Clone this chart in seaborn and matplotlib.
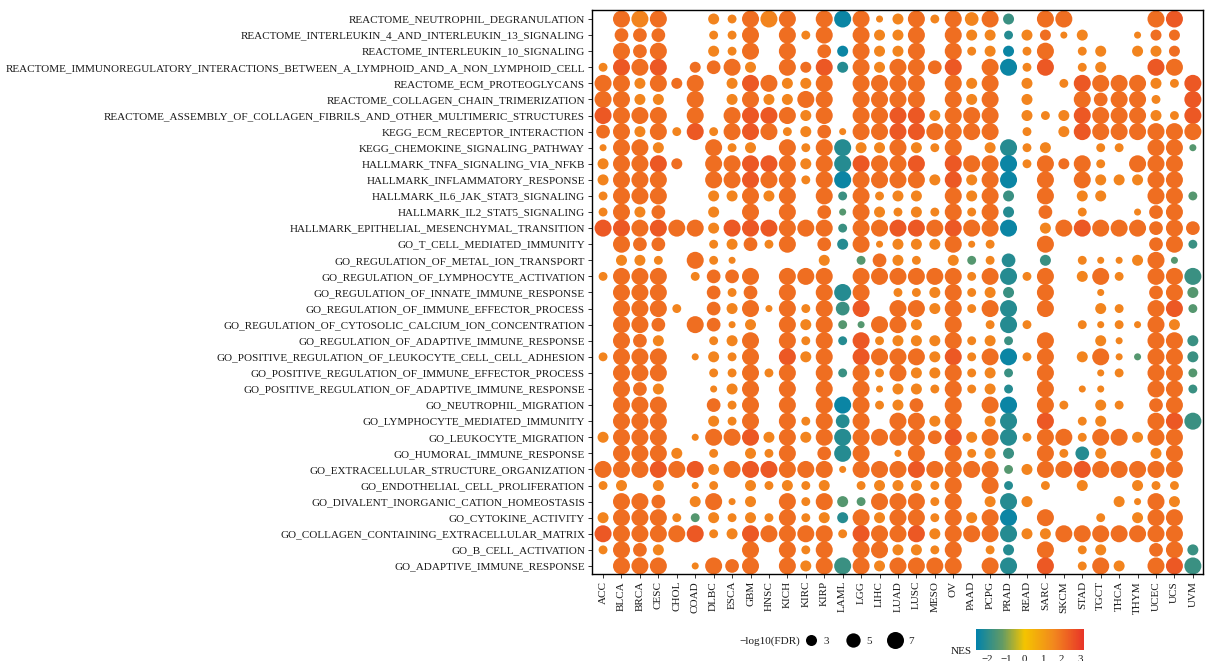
import numpy as np
import pandas as pd
import matplotlib
matplotlib.use("Agg")
import matplotlib as mpl
import matplotlib.pyplot as plt
from matplotlib.colors import LinearSegmentedColormap, Normalize
from matplotlib.lines import Line2D
import seaborn as sns

CANCERS = ["ACC", "BLCA", "BRCA", "CESC", "CHOL", "COAD", "DLBC", "ESCA", "GBM", "HNSC",
           "KICH", "KIRC", "KIRP", "LAML", "LGG", "LIHC", "LUAD", "LUSC", "MESO", "OV",
           "PAAD", "PCPG", "PRAD", "READ", "SARC", "SKCM", "STAD", "TGCT", "THCA", "THYM",
           "UCEC", "UCS", "UVM"]

PATHWAYS = [
    "REACTOME_NEUTROPHIL_DEGRANULATION",
    "REACTOME_INTERLEUKIN_4_AND_INTERLEUKIN_13_SIGNALING",
    "REACTOME_INTERLEUKIN_10_SIGNALING",
    "REACTOME_IMMUNOREGULATORY_INTERACTIONS_BETWEEN_A_LYMPHOID_AND_A_NON_LYMPHOID_CELL",
    "REACTOME_ECM_PROTEOGLYCANS",
    "REACTOME_COLLAGEN_CHAIN_TRIMERIZATION",
    "REACTOME_ASSEMBLY_OF_COLLAGEN_FIBRILS_AND_OTHER_MULTIMERIC_STRUCTURES",
    "KEGG_ECM_RECEPTOR_INTERACTION",
    "KEGG_CHEMOKINE_SIGNALING_PATHWAY",
    "HALLMARK_TNFA_SIGNALING_VIA_NFKB",
    "HALLMARK_INFLAMMATORY_RESPONSE",
    "HALLMARK_IL6_JAK_STAT3_SIGNALING",
    "HALLMARK_IL2_STAT5_SIGNALING",
    "HALLMARK_EPITHELIAL_MESENCHYMAL_TRANSITION",
    "GO_T_CELL_MEDIATED_IMMUNITY",
    "GO_REGULATION_OF_METAL_ION_TRANSPORT",
    "GO_REGULATION_OF_LYMPHOCYTE_ACTIVATION",
    "GO_REGULATION_OF_INNATE_IMMUNE_RESPONSE",
    "GO_REGULATION_OF_IMMUNE_EFFECTOR_PROCESS",
    "GO_REGULATION_OF_CYTOSOLIC_CALCIUM_ION_CONCENTRATION",
    "GO_REGULATION_OF_ADAPTIVE_IMMUNE_RESPONSE",
    "GO_POSITIVE_REGULATION_OF_LEUKOCYTE_CELL_CELL_ADHESION",
    "GO_POSITIVE_REGULATION_OF_IMMUNE_EFFECTOR_PROCESS",
    "GO_POSITIVE_REGULATION_OF_ADAPTIVE_IMMUNE_RESPONSE",
    "GO_NEUTROPHIL_MIGRATION",
    "GO_LYMPHOCYTE_MEDIATED_IMMUNITY",
    "GO_LEUKOCYTE_MIGRATION",
    "GO_HUMORAL_IMMUNE_RESPONSE",
    "GO_EXTRACELLULAR_STRUCTURE_ORGANIZATION",
    "GO_ENDOTHELIAL_CELL_PROLIFERATION",
    "GO_DIVALENT_INORGANIC_CATION_HOMEOSTASIS",
    "GO_CYTOKINE_ACTIVITY",
    "GO_COLLAGEN_CONTAINING_EXTRACELLULAR_MATRIX",
    "GO_B_CELL_ACTIVATION",
    "GO_ADAPTIVE_IMMUNE_RESPONSE",
]

# -log10(FDR) class of each cell ('.' = no dot); one string per pathway,
# one character per cancer type (spaces only group the columns by four)
FDR_CODES = [
    ".555 ..32 555. 5551 3525 453. 55.. ..55 .",
    ".444 ..22 5.52 5.53 35.5 3323 313. .133 .",
    ".545 ..32 5.5. 4353 35.5 2332 5.23 .333 .",
    "2555 .345 3.53 5353 5545 .552 5.23 ..55 .",
    "5535 35.3 5533 5.55 55.5 35.3 .255 5532 5",
    "5533 .5.3 5335 5.55 55.5 35.3 ..54 552. 5",
    "5555 .5.5 5553 5.55 5535 55.3 2355 5532 5",
    "4535 2525 5523 4155 5555 55.2 .355 5555 5",
    "1553 ..52 3.52 5533 5325 .352 3..2 2.55 1",
    "3555 3.55 5553 5555 55.5 5552 5352 .555 .",
    "3555 ..55 5552 5555 5535 355. 5.53 3355 .",
    "2555 ..33 535. 5252 33.5 353. 5.33 ..55 2",
    "2534 ..3. 5.5. 4153 2325 253. 4.2. .145 .",
    "5555 5535 5555 5255 5555 555. 3555 5545 4",
    ".544 ..23 425. 4351 3335 12.. 5... ..45 2",
    ".332 .521 .... 3.24 32.3 224. 3.21 1351 .",
    "2555 .244 5.55 5.55 5555 2552 5.35 2.55 5",
    ".555 ..42 4.5. 555. 2235 233. 5..1 ..45 3",
    ".555 2.43 5152 545. 5535 255. 5..3 2.55 2",
    ".554 .541 3.53 5215 53.5 .252 ..21 2153 .",
    ".543 ..23 5.52 5252 3335 232. 5..3 1.55 3",
    "2555 .132 5.53 5.55 5535 2552 5.35 1155 3",
    ".555 ..22 525. 5252 5335 232. 5..1 2.55 2",
    ".543 ..13 5.5. 5.51 3325 232. 5.11 ..55 2",
    ".555 ..42 5.5. 5552 34.5 .55. 52.3 2.45 .",
    ".555 ..32 5.52 545. 5535 .35. 5.23 ..55 5",
    "3555 .155 5353 5555 5545 3552 5525 5355 .",
    ".555 3.2. 325. 455. 15.5 233. 5243 ..35 .",
    "5555 5535 5555 5155 5555 5523 5555 5555 .",
    "23.3 .12. 3232 3.23 3325 .52. 2.3. .322 .",
    ".554 .351 3.52 5325 5525 .353 .... 3153 .",
    "3555 2232 3252 3353 5525 355. 5..2 .355 .",
    "5555 5523 5555 5255 5535 5553 3555 5555 .",
    "2543 .... 5.52 5.55 3325 .23. 5.23 ..45 3",
    ".555 .154 5.53 5553 5555 .55. 5.25 3.55 5",
]

# NES class of each cell
NES_CODES = [
    ".OoO ..oo OoO. OBOo oOoO oOG. OO.. ..OR .",
    ".OOO ..oo O.Oo O.Oo oO.O ooTo Ooo. .oOO .",
    ".OOO ..oo O.O. OBOo oO.O ooBo O.oo .ooO .",
    "oROR .OOO o.OO RTOo OOOR .OBo R.oo ..RO .",
    "OOoO OO.o ROoo O.OO OO.O oO.o .oRO OOoo R",
    "OOoo .O.o OooO O.OO OO.O oO.o ..OO OOo. R",
    "ROOO .O.O RROo O.OO RRoO OO.o ooRO OOoo R",
    "OOoO oRoO ROoo OoOO RROO OO.o .oRO OOOO O",
    "oOOo ..Oo o.Oo OToo OooO .oTo o..o o.OO g",
    "oOOR O.OO RROo OTRO OR.R OOBo OOOo .OOO .",
    "oOOO ..OO ROOo OBOO OOoR oOB. O.Oo ooOO .",
    "oOOO ..oo OoO. OGOo oo.O oOG. O.oo ..OO g",
    "oOoO ..o. O.O. OgOo oooO oOT. O.o. .oOO .",
    "RROR OOoR RROO OGOO RROR OOB. oORO OOOO O",
    ".OOO ..oo OoO. OTOo oooO oo.. O... ..OO G",
    ".ooo .Ooo .... o.gO oo.o goT. G.oo ooOg .",
    "oOOO .oOO O.OO O.OO OOOO oOTo O.oO o.OO G",
    ".OOO ..Oo O.O. OTO. oooO ooG. O..o ..OO g",
    ".OOO o.Oo OoOo OGR. OOoO oOT. O..o o.OR g",
    ".OOO .OOo o.Oo OggO Oo.O .oTo ..oo ooOo .",
    ".OOo ..oo O.Oo OTRo oooO ooG. O..o o.OO G",
    "oOOO .ooo O.Ro O.RO OOoR oOBo O.oO ogOO G",
    ".OOO ..oo OoO. OGOo OooO ooG. O..o o.OO g",
    ".OOo ..oo O.O. O.Oo oooO ooT. O.oo ..OO G",
    ".OOO ..Oo O.O. OBOo oO.O .OB. Oo.o o.OO .",
    ".OOO ..oo O.Oo OTO. OOoO .oT. R.oo ..OR G",
    "oOOO .oOO RoOo OTOO OOOR oOTo OOoO OoOO .",
    ".OOO o.o. ooO. OTO. oO.O ooG. OoTo ..oO .",
    "OOOR ORoO RROO OoOO OROO OOgo OORO OOOO .",
    "oo.o .oo. oooo o.oo oooO .OT. o.o. .ooo .",
    ".OOO .oOo o.Oo OggO OOoO .oTo .... ooOo .",
    "oOOO ogoo ooOo oTOo OOoO oOB. O..o .oOO .",
    "ROOO ORoo ROOO OoRO ORoO OOTo oOOO OOOO .",
    "oOOo .... O.Oo O.OO oooO .oT. O.oo ..OO G",
    ".OOO .oOO O.Oo OGOo OOOO .OT. R.oO o.OR G",
]

FDR_LEVELS = {"1": 1.3, "2": 2.0, "3": 3.0, "4": 4.6, "5": 7.0}
NES_LEVELS = {"B": -2.45, "T": -2.1, "G": -1.8, "g": -1.4, "o": 1.65, "O": 2.1, "R": 2.5}

SIZE_BREAKS = [3, 5, 7]
NES_TICKS = [-2, -1, 0, 1, 2, 3]
NES_RANGE = (-2.63, 3.22)

# ---------------------------------------------------------------- data table
records = []
for yi, (path, srow, crow) in enumerate(zip(PATHWAYS, FDR_CODES, NES_CODES)):
    srow = srow.replace(" ", "")
    crow = crow.replace(" ", "")
    if len(srow) != len(CANCERS) or len(crow) != len(CANCERS):
        raise ValueError(f"row {yi} length {len(srow)} {len(crow)}")
    for xi, (s, c) in enumerate(zip(srow, crow)):
        if (s == ".") != (c == "."):
            raise ValueError(f"mismatch row {yi} col {xi}: {s} {c}")
        if s == ".":
            continue
        records.append({"xi": xi, "yi": yi, "cancer": CANCERS[xi], "pathway": path,
                        "logFDR": FDR_LEVELS[s], "NES": NES_LEVELS[c]})
df = pd.DataFrame(records)

# ---------------------------------------------------------------- style
sns.set_style("white")
plt.rcParams["font.family"] = ["Liberation Serif", "DejaVu Serif"]
plt.rcParams["axes.unicode_minus"] = True

span = NES_RANGE[1] - NES_RANGE[0]
cmap = LinearSegmentedColormap.from_list(
    "nes",
    [(0.0, "#0082AC"),
     ((-1.2 - NES_RANGE[0]) / span, "#649B64"),
     ((0.0 - NES_RANGE[0]) / span, "#F4C400"),
     ((1.6 - NES_RANGE[0]) / span, "#F2871E"),
     (1.0, "#E83428")])
norm = Normalize(*NES_RANGE)

# marker area (pt^2) linear in -log10(FDR)
def area(v):
    return 62.7 + 21.8 * (v - 3.0)

SIZE_NORM = (1.0, 8.0)

W, H = 1208, 661
fig = plt.figure(figsize=(W / 100, H / 100), dpi=100)
ax = fig.add_axes([592 / W, 1 - 574 / H, 611 / W, 564 / H])

sns.scatterplot(data=df, x="xi", y="yi", hue="NES", size="logFDR",
                palette=cmap, hue_norm=norm,
                sizes=(area(SIZE_NORM[0]), area(SIZE_NORM[1])), size_norm=SIZE_NORM,
                linewidth=0, alpha=1, legend=False, ax=ax)

ax.set_xticks(range(len(CANCERS)))
ax.set_xticklabels(CANCERS, rotation=90)
ax.set_yticks(range(len(PATHWAYS)))
ax.set_yticklabels(PATHWAYS)
ax.set_xlim(-0.6, len(CANCERS) - 0.45)
ax.set_ylim(len(PATHWAYS) - 0.5, -0.56)
ax.set_xlabel("")
ax.set_ylabel("")
for sp in ax.spines.values():
    sp.set_visible(True)
    sp.set_color("black")
    sp.set_linewidth(1.0)
ax.tick_params(axis="both", which="major", length=3, width=0.7, color="#333333",
               labelsize=8.0, pad=2, labelcolor="#1a1a1a", bottom=True, left=True)

# ---------------------------------------------------------------- size legend
fig.text(800 / W, 1 - 641 / H, "\u2212log10(FDR)", ha="right", va="center",
         fontsize=8.0, color="#1a1a1a")
handles = [Line2D([], [], marker="o", linestyle="", color="black", markeredgewidth=0,
                  markersize=np.sqrt(area(v))) for v in SIZE_BREAKS]
fig.legend(handles, [str(v) for v in SIZE_BREAKS], ncol=3, frameon=False,
           loc="center left", bbox_to_anchor=(804 / W, 1 - 641 / H),
           fontsize=8.0, handletextpad=0.6, columnspacing=1.5, handlelength=1.2,
           borderpad=0, borderaxespad=0)

# ---------------------------------------------------------------- colour bar
cax = fig.add_axes([976 / W, 1 - 650 / H, 108 / W, 21 / H])
cb = mpl.colorbar.ColorbarBase(cax, cmap=cmap, norm=norm, orientation="horizontal",
                               ticks=NES_TICKS)
cb.outline.set_visible(False)
cax.xaxis.set_ticks_position("both")
cax.tick_params(axis="x", direction="in", color="white", length=3.5, width=0.8,
                labelcolor="#1a1a1a", labelsize=7.8, pad=3.5, labelbottom=True, labeltop=False)
fig.text(972 / W, 1 - 652 / H, "NES", ha="right", va="center", fontsize=8.0,
         color="#1a1a1a")

fig.savefig("out.png", dpi=100)
